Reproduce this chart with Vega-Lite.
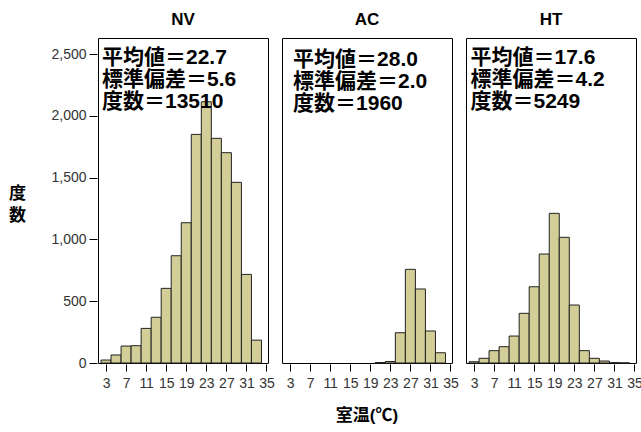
{
  "$schema": "https://vega.github.io/schema/vega-lite/v6.json",
  "padding": {"left": 8, "top": 11, "right": 5, "bottom": 5},
  "background": "white",
  "config": {
    "font": "Liberation Sans, Noto Sans CJK JP",
    "view": {"stroke": "black", "strokeWidth": 1},
    "axisX": {
      "title": null,
      "grid": false,
      "domain": false,
      "tickColor": "black",
      "tickSize": 7,
      "labelFontSize": 14,
      "labelColor": "#333333",
      "labelPadding": 5,
      "labelOverlap": false,
      "labelFlush": false,
      "labelBound": false
    },
    "axisY": {
      "grid": false,
      "domain": false,
      "tickColor": "black",
      "tickSize": 8,
      "labelFontSize": 14,
      "labelColor": "#333333",
      "labelPadding": 3,
      "labelOverlap": false
    }
  },
  "data": {
    "values": [
      {"g": "NV", "lo": 2, "hi": 4, "n": 24},
      {"g": "NV", "lo": 4, "hi": 6, "n": 65},
      {"g": "NV", "lo": 6, "hi": 8, "n": 137},
      {"g": "NV", "lo": 8, "hi": 10, "n": 140},
      {"g": "NV", "lo": 10, "hi": 12, "n": 280},
      {"g": "NV", "lo": 12, "hi": 14, "n": 370},
      {"g": "NV", "lo": 14, "hi": 16, "n": 604},
      {"g": "NV", "lo": 16, "hi": 18, "n": 868},
      {"g": "NV", "lo": 18, "hi": 20, "n": 1135},
      {"g": "NV", "lo": 20, "hi": 22, "n": 1850},
      {"g": "NV", "lo": 22, "hi": 24, "n": 2114},
      {"g": "NV", "lo": 24, "hi": 26, "n": 1818},
      {"g": "NV", "lo": 26, "hi": 28, "n": 1702},
      {"g": "NV", "lo": 28, "hi": 30, "n": 1462},
      {"g": "NV", "lo": 30, "hi": 32, "n": 717},
      {"g": "NV", "lo": 32, "hi": 34, "n": 185},
      {"g": "AC", "lo": 20, "hi": 22, "n": 4},
      {"g": "AC", "lo": 22, "hi": 24, "n": 12},
      {"g": "AC", "lo": 24, "hi": 26, "n": 245},
      {"g": "AC", "lo": 26, "hi": 28, "n": 758},
      {"g": "AC", "lo": 28, "hi": 30, "n": 599},
      {"g": "AC", "lo": 30, "hi": 32, "n": 259},
      {"g": "AC", "lo": 32, "hi": 34, "n": 83},
      {"g": "HT", "lo": 2, "hi": 4, "n": 10},
      {"g": "HT", "lo": 4, "hi": 6, "n": 38},
      {"g": "HT", "lo": 6, "hi": 8, "n": 100},
      {"g": "HT", "lo": 8, "hi": 10, "n": 132},
      {"g": "HT", "lo": 10, "hi": 12, "n": 218},
      {"g": "HT", "lo": 12, "hi": 14, "n": 402},
      {"g": "HT", "lo": 14, "hi": 16, "n": 617},
      {"g": "HT", "lo": 16, "hi": 18, "n": 882},
      {"g": "HT", "lo": 18, "hi": 20, "n": 1211},
      {"g": "HT", "lo": 20, "hi": 22, "n": 1017},
      {"g": "HT", "lo": 22, "hi": 24, "n": 469},
      {"g": "HT", "lo": 24, "hi": 26, "n": 100},
      {"g": "HT", "lo": 26, "hi": 28, "n": 38},
      {"g": "HT", "lo": 28, "hi": 30, "n": 16},
      {"g": "HT", "lo": 30, "hi": 32, "n": 3},
      {"g": "HT", "lo": 32, "hi": 34, "n": 1},
      {"g": "NV", "tx": 2.2, "ty": 2465, "label": ["平均値＝22.7", "標準偏差＝5.6", "度数＝13510"]},
      {"g": "AC", "tx": 3.6, "ty": 2451, "label": ["平均値＝28.0", "標準偏差＝2.0", "度数＝1960"]},
      {"g": "HT", "tx": 2.3, "ty": 2465, "label": ["平均値＝17.6", "標準偏差＝4.2", "度数＝5249"]}
    ]
  },
  "spacing": 12,
  "facet": {
    "column": {
      "field": "g",
      "type": "nominal",
      "sort": ["NV", "AC", "HT"],
      "title": "室温(℃)",
      "header": {
        "labelOrient": "top",
        "labelFontSize": 17,
        "labelFontWeight": "bold",
        "labelColor": "black",
        "labelPadding": 8,
        "titleOrient": "bottom",
        "titleFontSize": 17,
        "titleFontWeight": "bold",
        "titleColor": "black",
        "titlePadding": 8
      }
    }
  },
  "spec": {
    "width": 170,
    "height": 325,
    "layer": [
      {
        "transform": [{"filter": "isValid(datum.n)"}],
        "mark": {"type": "bar", "fill": "#d3ce97", "stroke": "#222222", "strokeWidth": 1},
        "encoding": {
          "x": {
            "field": "lo",
            "type": "quantitative",
            "scale": {"domain": [1.4, 35.3], "nice": false, "zero": false},
            "axis": {"title": null, "values": [3, 7, 11, 15, 19, 23, 27, 31, 35]}
          },
          "x2": {"field": "hi"},
          "y": {
            "field": "n",
            "type": "quantitative",
            "scale": {"domain": [0, 2630], "nice": false},
            "axis": {
              "title": ["度", "数"],
              "titleAngle": 0,
              "titleAlign": "center",
              "titleBaseline": "middle",
              "titleX": -80,
              "titleY": 155,
              "titleFontSize": 17,
              "titleFontWeight": "bold",
              "titleColor": "black",
              "titleLineHeight": 22,
              "values": [0, 500, 1000, 1500, 2000, 2500],
              "format": ",d"
            }
          },
          "y2": {"datum": 0}
        }
      },
      {
        "transform": [{"filter": "isValid(datum.tx)"}],
        "mark": {"type": "text", "align": "left", "baseline": "middle", "fontSize": 21, "fontWeight": "bold", "color": "black", "lineHeight": 21.7},
        "encoding": {
          "x": {
            "field": "tx",
            "type": "quantitative",
            "axis": {"title": null, "values": [3, 7, 11, 15, 19, 23, 27, 31, 35]}
          },
          "y": {
            "field": "ty",
            "type": "quantitative",
            "axis": {
              "title": ["度", "数"],
              "titleAngle": 0,
              "titleAlign": "center",
              "titleBaseline": "middle",
              "titleX": -80,
              "titleY": 155,
              "titleFontSize": 17,
              "titleFontWeight": "bold",
              "titleColor": "black",
              "titleLineHeight": 22,
              "values": [0, 500, 1000, 1500, 2000, 2500],
              "format": ",d"
            }
          },
          "text": {"field": "label"}
        }
      }
    ]
  }
}
